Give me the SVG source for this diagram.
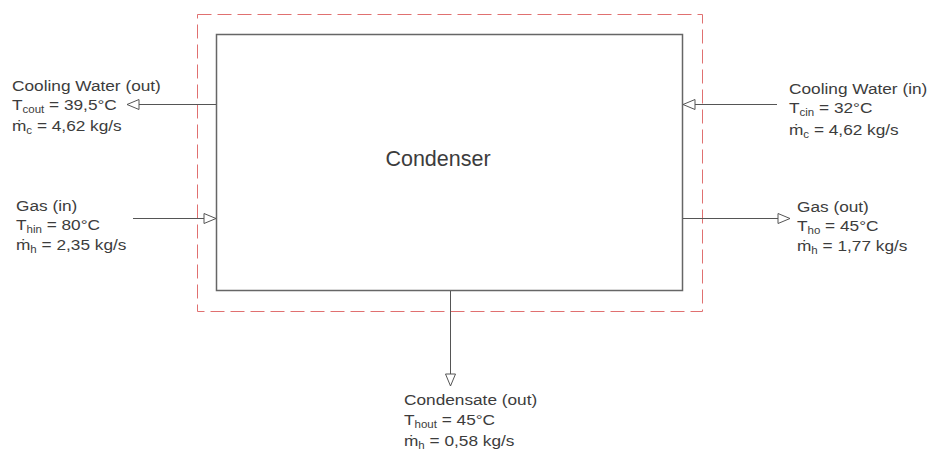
<svg xmlns="http://www.w3.org/2000/svg" width="931" height="452" viewBox="0 0 931 452">
<style>
text{font-family:"Liberation Sans",Arial,sans-serif;font-size:15px;fill:#3c3c3c}
.sub{font-size:10px}
.ln{stroke:#555;stroke-width:1;fill:none}
</style>
<defs>
<marker id="ah" viewBox="0 0 14 12" refX="13" refY="6" markerWidth="14" markerHeight="12" markerUnits="userSpaceOnUse" orient="auto">
<path d="M1,1 L13,6 L1,11 Z" fill="#fff" stroke="#555" stroke-width="1"/>
</marker>
</defs>
<rect width="931" height="452" fill="#fff"/>
<g id="boundary">
<rect x="197.5" y="14.5" width="505" height="297" fill="none" stroke="#e07070" stroke-width="1" stroke-dasharray="14,6"/>
</g>
<g id="condenser">
<rect x="216.5" y="34.5" width="466" height="256" fill="#fff" stroke="#666" stroke-width="1.5"/>
<text x="438" y="166" text-anchor="middle" style="font-size:21.5px">Condenser</text>
</g>
<g id="connectors">
<line class="ln" x1="216" y1="104.5" x2="127" y2="104.5" marker-end="url(#ah)"/>
<line class="ln" x1="777" y1="104.5" x2="683" y2="104.5" marker-end="url(#ah)"/>
<line class="ln" x1="133" y1="218.5" x2="216" y2="218.5" marker-end="url(#ah)"/>
<line class="ln" x1="683" y1="218.5" x2="790" y2="218.5" marker-end="url(#ah)"/>
<line class="ln" x1="450.5" y1="291" x2="450.5" y2="386" marker-end="url(#ah)"/>
</g>
<g id="cw-out" transform="translate(12,0) scale(1.15,1)">
<text x="0" y="91">Cooling Water (out)</text>
<text x="0" y="110">T<tspan class="sub" dy="3">cout</tspan><tspan dy="-3"> = 39,5°C</tspan></text>
<text x="0" y="131">ṁ<tspan class="sub" dy="3">c</tspan><tspan dy="-3"> = 4,62 kg/s</tspan></text>
</g>
<g id="cw-in" transform="translate(789,0) scale(1.15,1)">
<text x="0" y="94">Cooling Water (in)</text>
<text x="0" y="113">T<tspan class="sub" dy="3">cin</tspan><tspan dy="-3"> = 32°C</tspan></text>
<text x="0" y="135">ṁ<tspan class="sub" dy="3">c</tspan><tspan dy="-3"> = 4,62 kg/s</tspan></text>
</g>
<g id="gas-in" transform="translate(16,0) scale(1.15,1)">
<text x="0" y="211">Gas (in)</text>
<text x="0" y="230">T<tspan class="sub" dy="3">hin</tspan><tspan dy="-3"> = 80°C</tspan></text>
<text x="0" y="250">ṁ<tspan class="sub" dy="3">h</tspan><tspan dy="-3"> = 2,35 kg/s</tspan></text>
</g>
<g id="gas-out" transform="translate(797,0) scale(1.15,1)">
<text x="0" y="212">Gas (out)</text>
<text x="0" y="231">T<tspan class="sub" dy="3">ho</tspan><tspan dy="-3"> = 45°C</tspan></text>
<text x="0" y="251">ṁ<tspan class="sub" dy="3">h</tspan><tspan dy="-3"> = 1,77 kg/s</tspan></text>
</g>
<g id="condensate" transform="translate(404,0) scale(1.15,1)">
<text x="0" y="405">Condensate (out)</text>
<text x="0" y="425">T<tspan class="sub" dy="3">hout</tspan><tspan dy="-3"> = 45°C</tspan></text>
<text x="0" y="446">ṁ<tspan class="sub" dy="3">h</tspan><tspan dy="-3"> = 0,58 kg/s</tspan></text>
</g>
</svg>
